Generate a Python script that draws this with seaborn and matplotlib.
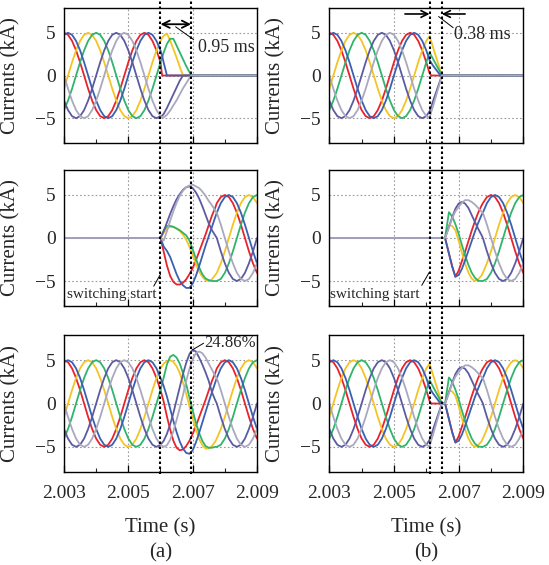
import numpy as np
import pandas as pd
import matplotlib
matplotlib.use("Agg")
import matplotlib.pyplot as plt
import seaborn as sns
from matplotlib.lines import Line2D

# ---------------- data ----------------
PHASES = ["red", "yellow", "green", "blue", "purple", "gray"]
COLORS = {"red": "#E8232B", "yellow": "#F5C423", "green": "#2FB46B",
          "blue": "#3A60B2", "purple": "#5B5BA2", "gray": "#A9A8BE"}

# steady-state sample times (s), 0.125 ms apart
t_grid = np.linspace(2.003, 2.009, 49)

# steady-state phase currents (kA)
red_ss = [5.00, 4.76, 4.05, 2.94, 1.55, 0.00, -1.55, -2.94, -4.05, -4.76, -5.00, -4.76, -4.05, -2.94, -1.55, 0.00, 1.55, 2.94, 4.05, 4.76,
          5.00, 4.76, 4.05, 2.94, 1.55, 0.00, -1.55, -2.94, -4.05, -4.76, -5.00, -4.76, -4.05, -2.94, -1.55, 0.00, 1.55, 2.94, 4.05, 4.76,
          5.00, 4.76, 4.05, 2.94, 1.55, 0.00, -1.55, -2.94, -4.05]
blue_ss = [4.76, 5.00, 4.76, 4.05, 2.94, 1.55, 0.00, -1.55, -2.94, -4.05, -4.76, -5.00, -4.76, -4.05, -2.94, -1.55, 0.00, 1.55, 2.94, 4.05,
           4.76, 5.00, 4.76, 4.05, 2.94, 1.55, 0.00, -1.55, -2.94, -4.05, -4.76, -5.00, -4.76, -4.05, -2.94, -1.55, 0.00, 1.55, 2.94, 4.05,
           4.76, 5.00, 4.76, 4.05, 2.94, 1.55, 0.00, -1.55, -2.94]
yellow_ss = [-1.55, 0.00, 1.55, 2.94, 4.05, 4.76, 5.00, 4.76, 4.05, 2.94, 1.55, 0.00, -1.55, -2.94, -4.05, -4.76, -5.00, -4.76, -4.05, -2.94,
             -1.55, 0.00, 1.55, 2.94, 4.05, 4.76, 5.00, 4.76, 4.05, 2.94, 1.55, 0.00, -1.55, -2.94, -4.05, -4.76, -5.00, -4.76, -4.05, -2.94,
             -1.55, 0.00, 1.55, 2.94, 4.05, 4.76, 5.00, 4.76, 4.05]
green_ss = [-4.05, -2.94, -1.55, 0.00, 1.55, 2.94, 4.05, 4.76, 5.00, 4.76, 4.05, 2.94, 1.55, 0.00, -1.55, -2.94, -4.05, -4.76, -5.00, -4.76,
            -4.05, -2.94, -1.55, 0.00, 1.55, 2.94, 4.05, 4.76, 5.00, 4.76, 4.05, 2.94, 1.55, 0.00, -1.55, -2.94, -4.05, -4.76, -5.00, -4.76,
            -4.05, -2.94, -1.55, 0.00, 1.55, 2.94, 4.05, 4.76, 5.00]
purple_ss = [-2.94, -4.05, -4.76, -5.00, -4.76, -4.05, -2.94, -1.55, 0.00, 1.55, 2.94, 4.05, 4.76, 5.00, 4.76, 4.05, 2.94, 1.55, 0.00, -1.55,
             -2.94, -4.05, -4.76, -5.00, -4.76, -4.05, -2.94, -1.55, 0.00, 1.55, 2.94, 4.05, 4.76, 5.00, 4.76, 4.05, 2.94, 1.55, 0.00, -1.55,
             -2.94, -4.05, -4.76, -5.00, -4.76, -4.05, -2.94, -1.55, 0.00]
gray_ss = [0.00, -1.55, -2.94, -4.05, -4.76, -5.00, -4.76, -4.05, -2.94, -1.55, 0.00, 1.55, 2.94, 4.05, 4.76, 5.00, 4.76, 4.05, 2.94, 1.55,
           0.00, -1.55, -2.94, -4.05, -4.76, -5.00, -4.76, -4.05, -2.94, -1.55, 0.00, 1.55, 2.94, 4.05, 4.76, 5.00, 4.76, 4.05, 2.94, 1.55,
           0.00, -1.55, -2.94, -4.05, -4.76, -5.00, -4.76, -4.05, -2.94]
steady = {"red": red_ss, "yellow": yellow_ss, "green": green_ss,
          "blue": blue_ss, "purple": purple_ss, "gray": gray_ss}

# (a) top: old windings switched off 2.006 -> 2.00695
ta1_t = [2.00605, 2.0061, 2.0062, 2.0063, 2.0064, 2.0065, 2.0066, 2.0067, 2.0068, 2.0069, 2.00695, 2.009]
red_a1 = [0, 0, 0, 0, 0, 0, 0, 0, 0, 0, 0, 0]
blue_a1 = [2.3, 1.5, 0, 0, 0, 0, 0, 0, 0, 0, 0, 0]
yellow_a1 = [4.4, 4.65, 4.9, 4.1, 3.1, 2.1, 1.0, 0, 0, 0, 0, 0]
green_a1 = [2.1, 2.7, 3.7, 4.3, 4.3, 3.5, 2.7, 1.9, 1.1, 0.4, 0, 0]
purple_a1 = [-4.7, -4.5, -3.8, -3.0, -2.2, -1.4, -0.6, 0, 0, 0, 0, 0]
gray_a1 = [-4.9, -4.9, -4.6, -4.1, -3.5, -2.9, -2.2, -1.5, -0.9, -0.3, 0, 0]

# (a) middle: new windings switched on at 2.006
tm_t = [2.006, 2.0061, 2.0062, 2.0063, 2.0064, 2.0065, 2.0066, 2.0067, 2.0068, 2.0069,
        2.0070, 2.0071, 2.0072, 2.0073, 2.0074, 2.0075, 2.0076, 2.0077]
red_a2 = [0, -1.6, -3.2, -4.4, -5.1, -5.4, -5.4, -5.2, -4.8, -4.2, -3.5, -2.6, -1.6, -0.6, 0.4, 1.5, 2.6, 3.5]
blue_a2 = [0, -1.0, -1.5, -2.2, -3.2, -4.2, -5.0, -5.5, -5.8, -5.8, -5.3, -4.4, -3.3, -2.1, -0.9, 0.2, 1.3, 2.4]
yellow_a2 = [0, 0.6, 1.1, 1.3, 1.3, 1.1, 0.8, 0.4, -0.2, -1.0, -2.0, -3.0, -3.9, -4.5, -4.9, -5.0, -4.8, -4.3]
green_a2 = [0, 0.9, 1.4, 1.4, 1.3, 1.1, 0.9, 0.6, 0.3, -0.3, -1.3, -2.4, -3.4, -4.2, -4.7, -4.9, -5.0, -5.0]
purple_a2 = [0, 0.8, 1.8, 2.8, 3.7, 4.5, 5.1, 5.6, 5.9, 6.0, 5.8, 5.3, 4.6, 3.7, 2.7, 1.7, 0.9, 0.3]
gray_a2 = [0, -0.3, 0.8, 2.0, 3.1, 4.1, 4.9, 5.5, 5.9, 6.1, 6.2, 6.0, 5.8, 5.4, 4.9, 4.3, 3.8, 3.2]

# (a) bottom: total currents, 2.0061 -> 2.0077
red_a3 = [0.2, -1.5, -3.0, -4.3, -5.1, -5.4, -5.3, -4.9, -4.3, -3.5, -2.6, -1.6, -0.6, 0.4, 1.5, 2.6, 3.5]
blue_a3 = [2.0, 0.8, -0.6, -2.0, -3.3, -4.4, -5.2, -5.7, -5.8, -5.4, -4.5, -3.4, -2.2, -1.0, 0.2, 1.3, 2.4]
yellow_a3 = [4.6, 4.9, 5.0, 4.8, 4.3, 3.5, 2.4, 1.1, -0.3, -1.7, -3.0, -4.1, -4.8, -5.2, -5.2, -4.9, -4.4]
green_a3 = [3.0, 4.5, 5.4, 5.6, 5.3, 4.6, 3.5, 2.2, 0.7, -0.8, -2.2, -3.4, -4.3, -4.9, -5.1, -5.1, -5.0]
purple_a3 = [-4.3, -3.5, -2.4, -1.1, 0.4, 1.9, 3.4, 4.7, 5.7, 6.2, 6.0, 5.3, 4.5, 3.6, 2.6, 1.3, 0.4]
gray_a3 = [-5.0, -4.8, -4.2, -3.2, -1.9, -0.5, 1.0, 2.6, 4.0, 5.1, 5.8, 6.0, 5.8, 5.3, 4.6, 3.9, 3.2]

# (b) top: old windings switched off 2.0061 -> 2.00648
tb1_t = [2.0061, 2.00615, 2.0062, 2.0063, 2.0064, 2.00648, 2.009]
red_b1 = [0.3, 0, 0, 0, 0, 0, 0]
blue_b1 = [1.8, 1.5, 1.2, 0.7, 0.2, 0, 0]
yellow_b1 = [4.6, 4.0, 3.4, 2.2, 1.0, 0, 0]
green_b1 = [2.7, 2.35, 2.0, 1.3, 0.6, 0, 0]
purple_b1 = [-4.2, -3.7, -3.1, -2.0, -0.9, 0, 0]
gray_b1 = [-4.95, -4.3, -3.7, -2.4, -1.1, 0, 0]

# (b) middle: new windings switched on at 2.00658
tb2_t = [2.00658, 2.0067, 2.0068, 2.0069, 2.0070, 2.0071, 2.0072, 2.0073, 2.0074, 2.0075, 2.0076, 2.0077]
red_b2 = [0, -1.8, -3.3, -4.5, -3.8, -2.7, -1.6, -0.4, 0.8, 1.9, 2.9, 3.7]
blue_b2 = [0, -1.8, -3.3, -4.5, -4.3, -3.6, -2.6, -1.5, -0.4, 0.7, 1.7, 2.6]
yellow_b2 = [0, 1.5, 1.4, 0.9, -0.3, -1.7, -3.0, -4.0, -4.7, -5.0, -4.8, -4.4]
green_b2 = [0, 3.0, 2.5, 1.6, 0.5, -0.8, -2.0, -3.1, -4.0, -4.6, -4.95, -5.0]
purple_b2 = [0, 1.3, 2.4, 3.4, 4.0, 4.2, 4.0, 3.5, 2.7, 1.9, 1.1, 0.4]
gray_b2 = [0, 1.2, 2.3, 3.1, 3.6, 4.1, 4.4, 4.4, 4.2, 3.9, 3.5, 3.1]

a1 = dict(red=red_a1, yellow=yellow_a1, green=green_a1, blue=blue_a1, purple=purple_a1, gray=gray_a1)
a2 = dict(red=red_a2, yellow=yellow_a2, green=green_a2, blue=blue_a2, purple=purple_a2, gray=gray_a2)
a3 = dict(red=red_a3, yellow=yellow_a3, green=green_a3, blue=blue_a3, purple=purple_a3, gray=gray_a3)
b1 = dict(red=red_b1, yellow=yellow_b1, green=green_b1, blue=blue_b1, purple=purple_b1, gray=gray_b1)
b2 = dict(red=red_b2, yellow=yellow_b2, green=green_b2, blue=blue_b2, purple=purple_b2, gray=gray_b2)

tg = list(t_grid)
panels = {
    "a1": (tg[:25] + ta1_t, {p: steady[p][:25] + a1[p] for p in PHASES}),
    "a2": ([2.003] + tm_t + tg[38:], {p: [0.0] + a2[p] + steady[p][38:] for p in PHASES}),
    "a3": (tg[:25] + tm_t[1:] + tg[38:], {p: steady[p][:25] + a3[p] + steady[p][38:] for p in PHASES}),
    "b1": (tg[:25] + tb1_t, {p: steady[p][:25] + b1[p] for p in PHASES}),
    "b2": ([2.003] + tb2_t + tg[38:], {p: [0.0] + b2[p] + steady[p][38:] for p in PHASES}),
    "b3": (tg[:25] + tb1_t[:-1] + tb2_t + tg[38:],
           {p: steady[p][:25] + b1[p][:-1] + b2[p] + steady[p][38:] for p in PHASES}),
}


def to_df(times, vals):
    rows = []
    for p in PHASES:
        for t, v in zip(times, vals[p]):
            rows.append((t, v, p))
    return pd.DataFrame(rows, columns=["t", "i", "phase"])


# ---------------- style ----------------
sns.set_style("ticks")
plt.rcParams["font.family"] = ["Liberation Serif", "DejaVu Serif"]
plt.rcParams["axes.unicode_minus"] = True

W, H = 549, 565
fig = plt.figure(figsize=(W / 100, H / 100), dpi=100)

cols = {"a": (64, 193), "b": (329.3, 194)}
rows_px = {"1": (8, 143), "2": (170, 306), "3": (335, 472)}

axes = {}
for key in panels:
    c, r = key[0], key[1]
    x0, w = cols[c]
    top, bot = rows_px[r]
    ax = fig.add_axes([x0 / W, 1 - bot / H, w / W, (bot - top) / H])
    axes[key] = ax
    times, vals = panels[key]
    df = to_df(times, vals)
    sns.lineplot(data=df, x="t", y="i", hue="phase", hue_order=PHASES, palette=COLORS,
                 estimator=None, sort=False, legend=False, ax=ax, linewidth=1.3)
    ax.set_xlim(2.003, 2.009)
    ax.set_ylim(-7.9, 7.9)
    ax.set_xticks([2.003, 2.005, 2.007, 2.009])
    ax.set_xticks([2.004, 2.006, 2.008], minor=True)
    ax.set_yticks([-5, 0, 5])
    ax.grid(True, which="major", ls=(0, (1.5, 2.0)), color="#9a9a9a", lw=0.8)
    ax.set_axisbelow(True)
    ax.tick_params(axis="both", which="major", direction="in", length=5, width=0.9,
                   labelsize=14, pad=6, color="black")
    ax.tick_params(axis="x", which="major", pad=9)
    ax.tick_params(axis="x", which="minor", direction="in", length=3, width=0.8)
    ax.tick_params(axis="y", which="major", length=0)
    if r == "3":
        ax.set_xticklabels(["2.003", "2.005", "2.007", "2.009"])
    else:
        ax.set_xticklabels([])
    ax.set_yticklabels(["\u22125", "0", "5"])
    ax.set_xlabel("")
    ax.set_ylabel("Currents (kA)", fontsize=15)
    ax.yaxis.set_label_coords(-44 / w, 0.5)
    for s in ax.spines.values():
        s.set_color("black")
        s.set_linewidth(1.0)

# ---------------- annotations ----------------
ax = axes["a1"]
ax.annotate("", xy=(2.006, 6.0), xytext=(2.00695, 6.0),
            arrowprops=dict(arrowstyle="<->", lw=1.3, color="black", shrinkA=0, shrinkB=0, mutation_scale=13))
ax.plot([2.00647, 2.00703], [5.7, 4.2], color="black", lw=0.7)
ax.text(2.00716, 3.3, "0.95 ms", ha="left", va="center", fontsize=13)

ax = axes["b1"]
ax.annotate("", xy=(2.0061, 7.2), xytext=(2.00534, 7.2),
            arrowprops=dict(arrowstyle="->", lw=1.2, color="black", shrinkA=0, shrinkB=0, mutation_scale=12))
ax.annotate("", xy=(2.00648, 7.2), xytext=(2.0072, 7.2),
            arrowprops=dict(arrowstyle="->", lw=1.2, color="black", shrinkA=0, shrinkB=0, mutation_scale=12))
ax.plot([2.00638, 2.00683], [6.9, 5.6], color="black", lw=0.7)
ax.text(2.00686, 4.85, "0.38 ms", ha="left", va="center", fontsize=13)

ax = axes["a2"]
ax.text(2.00308, -6.55, "switching start", ha="left", va="center", fontsize=11)
ax.plot([2.00579, 2.006], [-5.6, -4.2], color="black", lw=0.7)

ax = axes["b2"]
ax.text(2.00302, -6.55, "switching start", ha="left", va="center", fontsize=11)
ax.plot([2.00586, 2.00609], [-5.5, -4.0], color="black", lw=0.7)

ax = axes["a3"]
ax.plot([2.00700, 2.00734], [6.2, 6.95], color="black", lw=0.7)
ax.text(2.00736, 7.0, "24.86%", ha="left", va="center", fontsize=12)

# ---------------- switching markers spanning all rows ----------------
inv = fig.transFigure.inverted()
y_top, y_bot = 1.0, 1 - 474 / H
for key, xs in (("a3", [2.006, 2.00695]), ("b3", [2.0061, 2.00648])):
    for x in xs:
        fx = inv.transform(axes[key].transData.transform((x, 0)))[0]
        fig.add_artist(Line2D([fx, fx], [y_bot, y_top], transform=fig.transFigure,
                              color="black", lw=1.5, ls=(0, (1.2, 1.2)), zorder=10))

# ---------------- labels ----------------
for cx in (160.5 / W, 426 / W):
    fig.text(cx, 1 - 528 / H, "Time (s)", ha="center", va="center", fontsize=15)
fig.text(160.5 / W, 1 - 553 / H, "(a)", ha="center", va="center", fontsize=15)
fig.text(426 / W, 1 - 553 / H, "(b)", ha="center", va="center", fontsize=15)

fig.savefig("out.png", dpi=100)
